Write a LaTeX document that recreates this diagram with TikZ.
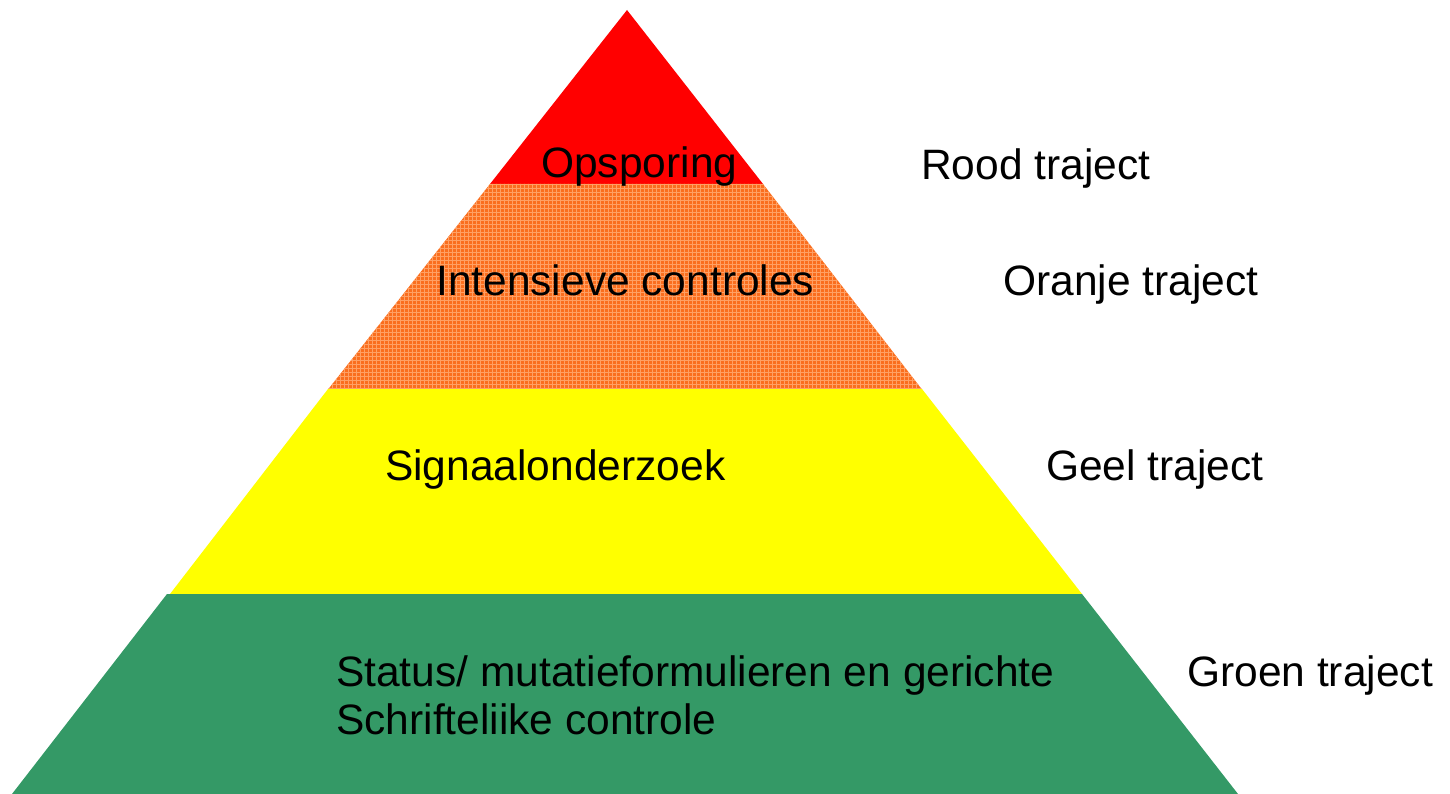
\documentclass[tikz,border=0pt]{standalone}
\usepackage{fontspec}
\setmainfont{Liberation Sans}
\definecolor{pyrred}{RGB}{255,0,0}
\definecolor{pyrorange}{RGB}{250,110,30}
\definecolor{pyrorangelight}{RGB}{255,160,100}
\definecolor{pyryellow}{RGB}{255,255,0}
\definecolor{pyrgreen}{RGB}{52,153,102}
\tikzset{
  lbl/.style={anchor=base west, inner sep=0pt, font=\fontsize{42.5}{48}\selectfont, align=left},
}
\begin{document}
\begin{tikzpicture}[x=1pt,y=-1pt]
\useasboundingbox (0,0) rectangle (1450,794);
% bands
\fill[pyrred] (627,10) -- (763,184) -- (490,184) -- cycle;
\begin{scope}
  \clip (490,184) -- (763,184) -- (922,389.5) -- (328,389.5) -- cycle;
  \fill[pyrorange] (320,180) rectangle (930,392);
  \foreach \i in {0,...,152} {
    \draw[pyrorangelight, line width=0.8pt] (320+4*\i,180) -- (320+4*\i,392);
  }
  \foreach \j in {0,...,53} {
    \draw[pyrorangelight, line width=0.8pt] (320,180+4*\j) -- (930,180+4*\j);
  }
\end{scope}
\fill[pyryellow] (328,389) -- (922,389) -- (1082,594) -- (170,594) -- cycle;
\fill[pyrgreen] (167,594) -- (1082,594) -- (1238,794) -- (12,794) -- cycle;
% labels inside
\node[lbl] (opsporing) at (541,178) {Opsporing};
\node[lbl] (intensief) at (436,295) {Intensieve controles};
\node[lbl] (signaal) at (385,480) {Signaalonderzoek};
\node[lbl] (status) at (336,686) {Status/ mutatieformulieren en gerichte};
\node[lbl] (schrift) at (336,734) {Schrifteliike controle};
% labels right
\node[lbl] (rood) at (921,180) {Rood traject};
\node[lbl] (oranje) at (1003,295) {Oranje traject};
\node[lbl] (geel) at (1046,480) {Geel traject};
\node[lbl] (groen) at (1187,686) {Groen traject};
\end{tikzpicture}
\end{document}
